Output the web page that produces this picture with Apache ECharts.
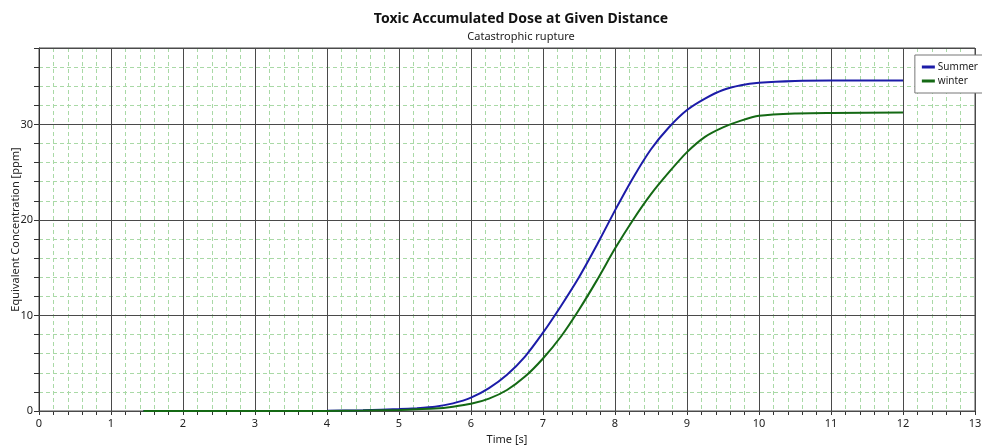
<!DOCTYPE html>
<html>
<head>
<meta charset="utf-8">
<script src="https://cdn.jsdelivr.net/npm/echarts@6/dist/echarts.min.js"></script>
<style>html,body{margin:0;padding:0;background:#fff}#c{width:982px;height:446px}</style>
</head>
<body>
<div id="c"></div>
<script>
const timeS = [1.45, 2, 3, 4, 4.5, 5, 5.25, 5.5, 5.75, 6, 6.25, 6.5, 6.75, 7, 7.25, 7.5, 7.75, 8, 8.25, 8.5, 8.75, 9, 9.25, 9.5, 9.75, 10, 10.5, 11, 12];
const summer = [0, 0, 0, 0.02, 0.08, 0.2, 0.3, 0.45, 0.8, 1.4, 2.4, 3.8, 5.7, 8.2, 11.0, 14.0, 17.4, 21.0, 24.4, 27.4, 29.7, 31.5, 32.7, 33.6, 34.1, 34.35, 34.55, 34.6, 34.6];
const winter = [0, 0, 0, 0.01, 0.04, 0.1, 0.18, 0.25, 0.45, 0.75, 1.3, 2.2, 3.6, 5.5, 7.8, 10.6, 13.7, 17.0, 20.0, 22.7, 25.0, 27.1, 28.7, 29.7, 30.4, 30.9, 31.15, 31.2, 31.25];
const seriesNames = ['Summer', 'winter'];
const titleText = 'Toxic Accumulated Dose at Given Distance';
const subtitleText = 'Catastrophic rupture';
const xName = 'Time [s]';
const yName = 'Equivalent Concentration [ppm]';

const pair = (ys) => timeS.map((t, i) => [t, ys[i]]);
const FONT = 'Noto Sans';
const dark = '#4a4a4a';
const green = '#a9d9a6';

const chart = echarts.init(document.getElementById('c'), null, {renderer: 'canvas'});
chart.setOption({
  animation: false,
  backgroundColor: '#ffffff',
  title: {
    text: titleText, subtext: subtitleText,
    left: 516, top: 7, textAlign: 'center', itemGap: 5,
    textStyle: {fontFamily: FONT, fontSize: 14, fontWeight: 'bold', color: '#111'},
    subtextStyle: {fontFamily: FONT, fontSize: 11, color: '#222'}
  },
  legend: {
    orient: 'vertical', right: -4, top: 55,
    backgroundColor: '#fff', borderColor: '#777', borderWidth: 1,
    padding: [7, 8, 7, 7], itemGap: 4, itemWidth: 13, itemHeight: 3,
    icon: 'rect',
    textStyle: {fontFamily: FONT, fontSize: 10, color: '#222', padding: [0, 0, 0, -2]},
    data: seriesNames
  },
  grid: {left: 39, right: 7, top: 48, bottom: 35, show: true, borderColor: dark, borderWidth: 1, containLabel: false, outerBoundsMode: 'none'},
  xAxis: {
    type: 'value', min: 0, max: 13, interval: 1,
    name: xName, nameLocation: 'middle', nameGap: 22,
    nameTextStyle: {fontFamily: FONT, fontSize: 11, color: '#222'},
    axisLine: {show: true, lineStyle: {color: '#333'}},
    axisTick: {show: true, length: 4, lineStyle: {color: '#333'}},
    minorTick: {show: true, splitNumber: 5, length: 4, lineStyle: {color: '#333'}},
    axisLabel: {fontFamily: FONT, fontSize: 11, color: '#222', margin: 7},
    splitLine: {show: true, lineStyle: {color: dark, width: 1}},
    minorSplitLine: {show: true, lineStyle: {color: green, type: [4, 3], width: 1}}
  },
  yAxis: [{
    type: 'value', min: 0, max: 38, interval: 2,
    name: yName, nameLocation: 'middle', nameGap: 18, nameMoveOverlap: false,
    nameTextStyle: {fontFamily: FONT, fontSize: 11, color: '#222'},
    axisLine: {show: true, lineStyle: {color: '#333'}},
    axisTick: {show: true, length: 5, lineStyle: {color: '#333'}},
    axisLabel: {fontFamily: FONT, fontSize: 11, color: '#222', margin: 6,
      formatter: v => (v % 10 === 0 ? String(v) : '')},
    splitLine: {show: true, lineStyle: {color: green, type: [4, 3], width: 1}}
  }, {
    type: 'value', min: 0, max: 38, interval: 10, position: 'left', z: 1,
    axisLine: {show: false}, axisTick: {show: false}, axisLabel: {show: false},
    splitLine: {show: true, lineStyle: {color: dark, width: 1}}
  }],
  series: [{
    name: seriesNames[0], type: 'line', data: pair(summer), yAxisIndex: 0,
    showSymbol: false, smooth: 0.2, z: 5,
    lineStyle: {color: '#1c1ca8', width: 2}, itemStyle: {color: '#1c1ca8'}
  }, {
    name: seriesNames[1], type: 'line', data: pair(winter), yAxisIndex: 0,
    showSymbol: false, smooth: 0.2, z: 5,
    lineStyle: {color: '#146914', width: 2}, itemStyle: {color: '#146914'}
  }]
});
</script>
</body>
</html>
